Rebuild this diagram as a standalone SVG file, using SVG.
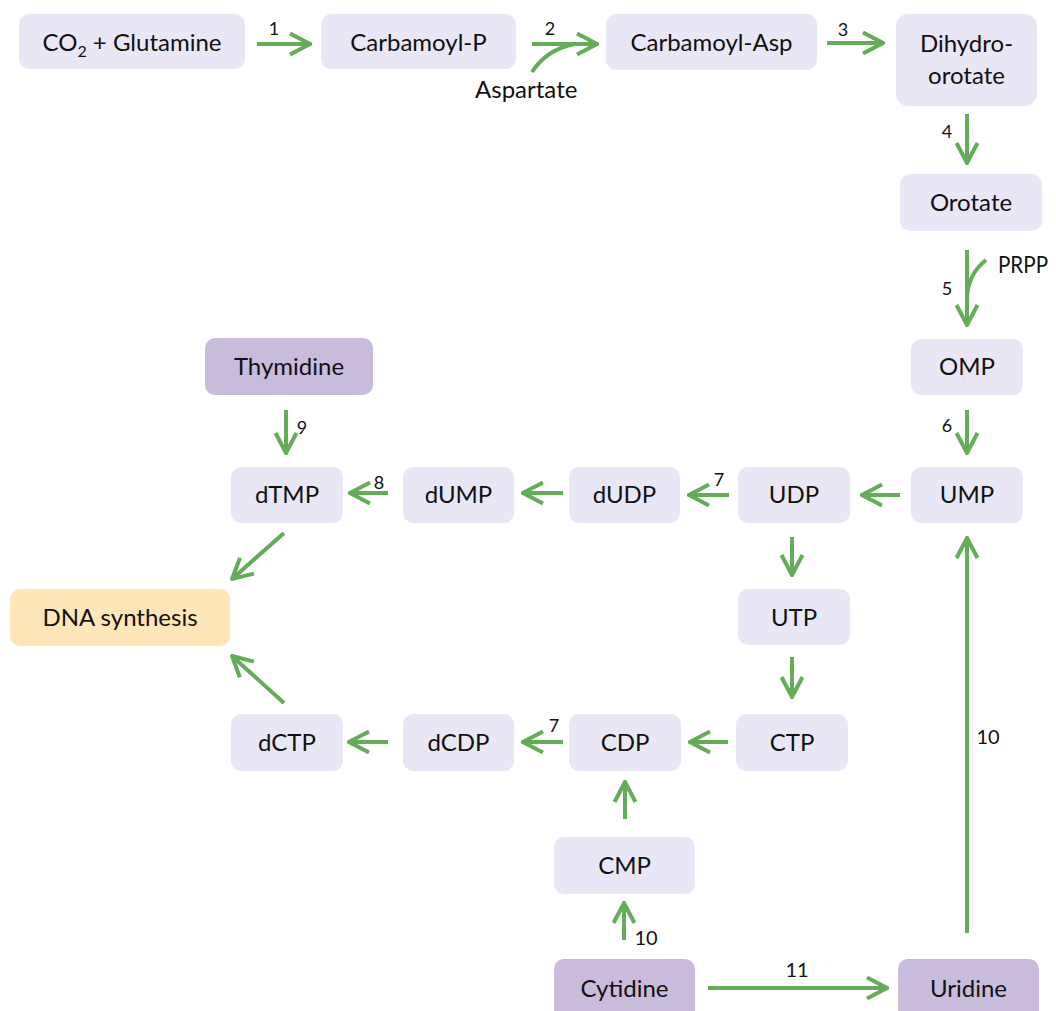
<svg xmlns="http://www.w3.org/2000/svg" width="1056" height="1011" viewBox="0 0 1056 1011">
  <defs>
    <style>
      .node rect { stroke: none; }
      .met rect { fill: #E9E7F6; }
      .nuc rect { fill: #C9BBDC; }
      .out rect { fill: #FFE6B9; }
      .node text { font-family: Lato, "Liberation Sans", sans-serif; font-size: 24px; fill: #111; text-anchor: middle; }
      .edge { stroke: #64AC57; stroke-width: 4; fill: none; }
      .arrow { marker-end: url(#head); }
      .num { font-family: Lato, "Liberation Sans", sans-serif; font-size: 18px; fill: #111; text-anchor: middle; }
      .num2 { font-size: 20px; }
      .cof { font-family: Lato, "Liberation Sans", sans-serif; font-size: 24px; fill: #111; }
    </style>
    <marker id="head" markerUnits="userSpaceOnUse" viewBox="-24 -14 26 28" refX="0" refY="0" markerWidth="26" markerHeight="28" orient="auto">
      <path d="M-20,-10.5 L0,0 L-20,10.5" fill="none" stroke="#64AC57" stroke-width="4" stroke-linejoin="miter"/>
    </marker>
  </defs>

  <!-- de novo pathway: top row -->
  <g id="co2-glutamine" class="node met">
    <rect x="19" y="14" width="226" height="55" rx="10"/>
    <text x="132" y="51">CO<tspan font-size="16" dy="6">2</tspan><tspan dy="-6"> + Glutamine</tspan></text>
  </g>
  <g id="carbamoyl-p" class="node met">
    <rect x="321" y="14" width="195" height="55" rx="10"/>
    <text x="418.5" y="51">Carbamoyl-P</text>
  </g>
  <g id="carbamoyl-asp" class="node met">
    <rect x="606" y="14" width="211" height="56" rx="10"/>
    <text x="711.5" y="51">Carbamoyl-Asp</text>
  </g>
  <g id="dihydroorotate" class="node met">
    <rect x="896" y="14" width="141" height="92" rx="12"/>
    <text x="966.5" y="52">Dihydro-</text>
    <text x="966.5" y="84">orotate</text>
  </g>
  <g id="orotate" class="node met">
    <rect x="900" y="174" width="142" height="57" rx="10"/>
    <text x="971" y="211">Orotate</text>
  </g>
  <g id="omp" class="node met">
    <rect x="911" y="339" width="112" height="56" rx="10"/>
    <text x="967" y="375">OMP</text>
  </g>
  <g id="ump" class="node met">
    <rect x="911" y="467" width="112" height="56" rx="10"/>
    <text x="967" y="503">UMP</text>
  </g>

  <!-- uridine branch -->
  <g id="udp" class="node met">
    <rect x="738" y="467" width="112" height="56" rx="10"/>
    <text x="794" y="503">UDP</text>
  </g>
  <g id="dudp" class="node met">
    <rect x="569" y="467" width="111" height="56" rx="10"/>
    <text x="624.5" y="503">dUDP</text>
  </g>
  <g id="dump" class="node met">
    <rect x="403" y="467" width="111" height="56" rx="10"/>
    <text x="458.5" y="503">dUMP</text>
  </g>
  <g id="dtmp" class="node met">
    <rect x="231" y="467" width="112" height="56" rx="10"/>
    <text x="287" y="503">dTMP</text>
  </g>
  <g id="thymidine" class="node nuc">
    <rect x="205" y="338" width="168" height="57" rx="10"/>
    <text x="289" y="375">Thymidine</text>
  </g>
  <g id="dna-synthesis" class="node out">
    <rect x="10" y="589" width="220" height="57" rx="10"/>
    <text x="120" y="626">DNA synthesis</text>
  </g>
  <g id="utp" class="node met">
    <rect x="738" y="589" width="112" height="56" rx="10"/>
    <text x="794" y="626">UTP</text>
  </g>

  <!-- cytidine branch -->
  <g id="ctp" class="node met">
    <rect x="736" y="714" width="112" height="57" rx="10"/>
    <text x="792" y="751">CTP</text>
  </g>
  <g id="cdp" class="node met">
    <rect x="569" y="714" width="112" height="57" rx="10"/>
    <text x="625" y="751">CDP</text>
  </g>
  <g id="dcdp" class="node met">
    <rect x="403" y="714" width="111" height="57" rx="10"/>
    <text x="458.5" y="751">dCDP</text>
  </g>
  <g id="dctp" class="node met">
    <rect x="231" y="714" width="112" height="57" rx="10"/>
    <text x="287" y="751">dCTP</text>
  </g>
  <g id="cmp" class="node met">
    <rect x="554" y="837" width="141" height="57" rx="10"/>
    <text x="624.5" y="874">CMP</text>
  </g>
  <g id="cytidine" class="node nuc">
    <rect x="554" y="959" width="141" height="64" rx="10"/>
    <text x="624.5" y="997">Cytidine</text>
  </g>
  <g id="uridine" class="node nuc">
    <rect x="898" y="959" width="141" height="64" rx="10"/>
    <text x="968.5" y="997">Uridine</text>
  </g>

  <!-- connectors -->
  <g id="connectors">
    <line class="edge arrow" x1="257" y1="44" x2="310" y2="44"/>
    <text class="num" x="274" y="35">1</text>

    <line class="edge arrow" x1="532" y1="44" x2="597" y2="44"/>
    <path class="edge" d="M532,72 Q546,50 574,44"/>
    <text class="num" x="550" y="35">2</text>
    <text class="cof" x="475" y="98">Aspartate</text>

    <line class="edge arrow" x1="827" y1="43" x2="883" y2="43"/>
    <text class="num" x="843" y="36">3</text>

    <line class="edge arrow" x1="967" y1="114" x2="967" y2="163"/>
    <text class="num" x="947" y="138">4</text>

    <line class="edge arrow" x1="967" y1="250" x2="967" y2="325"/>
    <path class="edge" d="M986,260 Q968,274 967,298"/>
    <text class="num" x="947" y="295">5</text>
    <text class="cof" x="998" y="273" font-size="23" textLength="50" lengthAdjust="spacingAndGlyphs">PRPP</text>

    <line class="edge arrow" x1="967" y1="410" x2="967" y2="453"/>
    <text class="num" x="947" y="432">6</text>

    <line class="edge arrow" x1="900" y1="495" x2="862" y2="495"/>

    <line class="edge arrow" x1="729" y1="495" x2="689" y2="495"/>
    <text class="num" x="719" y="486">7</text>

    <line class="edge arrow" x1="563" y1="493" x2="523" y2="493"/>

    <line class="edge arrow" x1="388" y1="493" x2="350" y2="493"/>
    <text class="num" x="379" y="489">8</text>

    <line class="edge arrow" x1="286" y1="410" x2="286" y2="453"/>
    <text class="num" x="302" y="434">9</text>

    <line class="edge arrow" x1="284" y1="533" x2="232" y2="579"/>

    <line class="edge arrow" x1="792" y1="537" x2="792" y2="575"/>
    <line class="edge arrow" x1="792" y1="657" x2="792" y2="697"/>

    <line class="edge arrow" x1="728" y1="742" x2="690" y2="742"/>

    <line class="edge arrow" x1="563" y1="742" x2="523" y2="742"/>
    <text class="num" x="554" y="732">7</text>

    <line class="edge arrow" x1="388" y1="742" x2="349" y2="742"/>

    <line class="edge arrow" x1="284" y1="703" x2="232" y2="656"/>

    <line class="edge arrow" x1="625" y1="819" x2="625" y2="782"/>

    <line class="edge arrow" x1="624" y1="940" x2="624" y2="903"/>
    <text class="num num2" x="646" y="945">10</text>

    <line class="edge arrow" x1="708" y1="988" x2="887" y2="988"/>
    <text class="num num2" x="797" y="977">11</text>

    <line class="edge arrow" x1="967" y1="933" x2="967" y2="538"/>
    <text class="num num2" x="988" y="744">10</text>
  </g>
</svg>
